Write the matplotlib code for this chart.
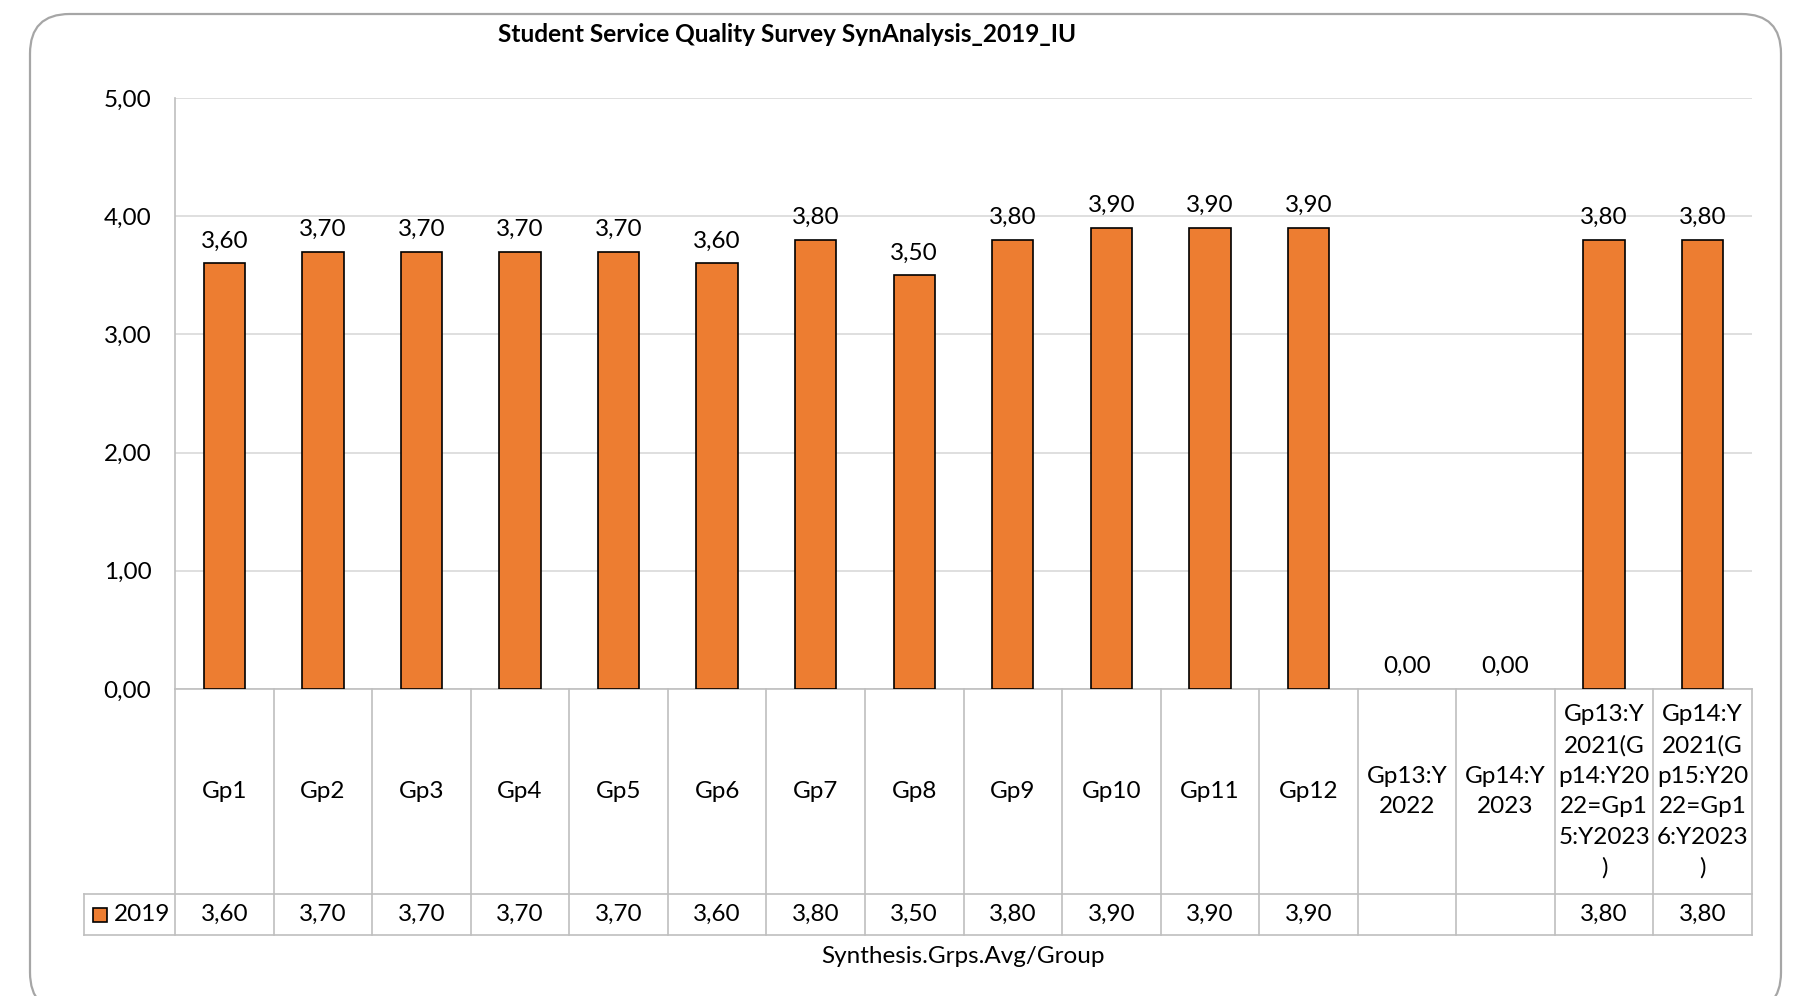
import matplotlib
matplotlib.use("Agg")
import matplotlib.pyplot as plt
from matplotlib.patches import FancyBboxPatch, Rectangle
from matplotlib.ticker import FuncFormatter

plt.rcParams['font.family'] = ['Lato', 'DejaVu Sans']

# ---- data ----
categories = [
    "Gp1", "Gp2", "Gp3", "Gp4", "Gp5", "Gp6", "Gp7", "Gp8", "Gp9", "Gp10",
    "Gp11", "Gp12", "Gp13:Y\n2022", "Gp14:Y\n2023",
    "Gp13:Y\n2021(G\np14:Y20\n22=Gp1\n5:Y2023\n)",
    "Gp14:Y\n2021(G\np15:Y20\n22=Gp1\n6:Y2023\n)",
]
series_name = "2019"
values_2019 = [3.60, 3.70, 3.70, 3.70, 3.70, 3.60, 3.80, 3.50, 3.80, 3.90,
               3.90, 3.90, None, None, 3.80, 3.80]
y_ticks = [0, 1, 2, 3, 4, 5]
title = "Student Service Quality Survey SynAnalysis_2019_IU"
x_title = "Synthesis.Grps.Avg/Group"

BAR = "#ED7D31"
GRID = "#D9D9D9"
LINE = "#BFBFBF"
TXT = "#000000"
FS = 17.5


def fmt(v):
    return f"{v:.2f}".replace(".", ",")


W, H = 1801, 996
fig = plt.figure(figsize=(W / 100, H / 100), dpi=100)

# rounded chart frame (bottom edge runs past the canvas)
fx0, fy0, fx1, fy1 = 30, 14, 1781, 1012
frame = FancyBboxPatch((fx0 / W, (H - fy1) / H), (fx1 - fx0) / W, (fy1 - fy0) / H,
                       boxstyle="round,pad=0,rounding_size=0.022",
                       transform=fig.transFigure, facecolor="none",
                       edgecolor="#A6A6A6", linewidth=1.6, mutation_aspect=W / H,
                       zorder=5)
fig.patches.append(frame)

left, right = 175, 1752
top, base = 98, 689
tab_bottom = 935
row_split = 894

ax = fig.add_axes([left / W, (H - base) / H, (right - left) / W, (base - top) / H])
n = len(categories)
xs = list(range(n))
heights = [0 if v is None else v for v in values_2019]
edge_w = [1.2 if h > 0 else 0 for h in heights]
ax.bar(xs, heights, width=0.42, color=BAR, edgecolor="black", linewidth=edge_w, zorder=3)
for x, h in zip(xs, heights):
    ax.annotate(fmt(h), (x, h), xytext=(0, 8.5), textcoords="offset points",
                ha="center", va="bottom", fontsize=FS, color=TXT)

ax.set_xlim(-0.5, n - 0.5)
ax.set_ylim(0, 5)
ax.set_yticks(y_ticks)
ax.yaxis.set_major_formatter(FuncFormatter(lambda v, p: fmt(v)))
ax.tick_params(axis="y", length=0, pad=17, labelsize=FS, colors=TXT)
ax.set_xticks([])
ax.grid(axis="y", color=GRID, linewidth=1.2, zorder=0)
for s in ("top", "right"):
    ax.spines[s].set_visible(False)
ax.spines["left"].set_color(LINE)
ax.spines["bottom"].set_color(LINE)
ax.spines["left"].set_linewidth(1.2)
ax.spines["bottom"].set_linewidth(1.2)

fig.text(787 / W, (H - 34) / H, title, ha="center", va="center",
         fontsize=17.6, fontweight="bold", color=TXT)

# data table beneath the axis
tax = fig.add_axes([left / W, (H - tab_bottom) / H, (right - left) / W,
                    (tab_bottom - base) / H], sharex=ax)
tax.set_ylim(0, tab_bottom - base)
tax.axis("off")
split = tab_bottom - row_split
full = tab_bottom - base
unit = (right - left) / n
leg_left = -0.5 - (left - 84) / unit
lk = dict(color=LINE, linewidth=1.2, clip_on=False)
for b in range(n + 1):
    tax.plot([b - 0.5, b - 0.5], [0, full], **lk)
tax.plot([leg_left, n - 0.5], [split, split], **lk)
tax.plot([leg_left, n - 0.5], [0, 0], **lk)
tax.plot([leg_left, leg_left], [0, split], **lk)

for x, lab, v in zip(xs, categories, values_2019):
    tax.text(x, (split + full) / 2, lab, ha="center", va="center",
             fontsize=FS, linespacing=1.55, color=TXT)
    if v is not None:
        tax.text(x, split / 2, fmt(v), ha="center", va="center",
                 fontsize=FS, color=TXT)

sq = 14 / unit
tax.add_patch(Rectangle((leg_left + 9 / unit, split / 2 - 7), sq, 14,
                        facecolor=BAR, edgecolor="black", linewidth=1.2,
                        clip_on=False))
tax.text(leg_left + 30 / unit, split / 2, series_name, ha="left", va="center",
         fontsize=FS, color=TXT)

fig.text(963 / W, (H - 956) / H, x_title, ha="center", va="center",
         fontsize=FS, color=TXT)

fig.savefig("out.png", dpi=100)
